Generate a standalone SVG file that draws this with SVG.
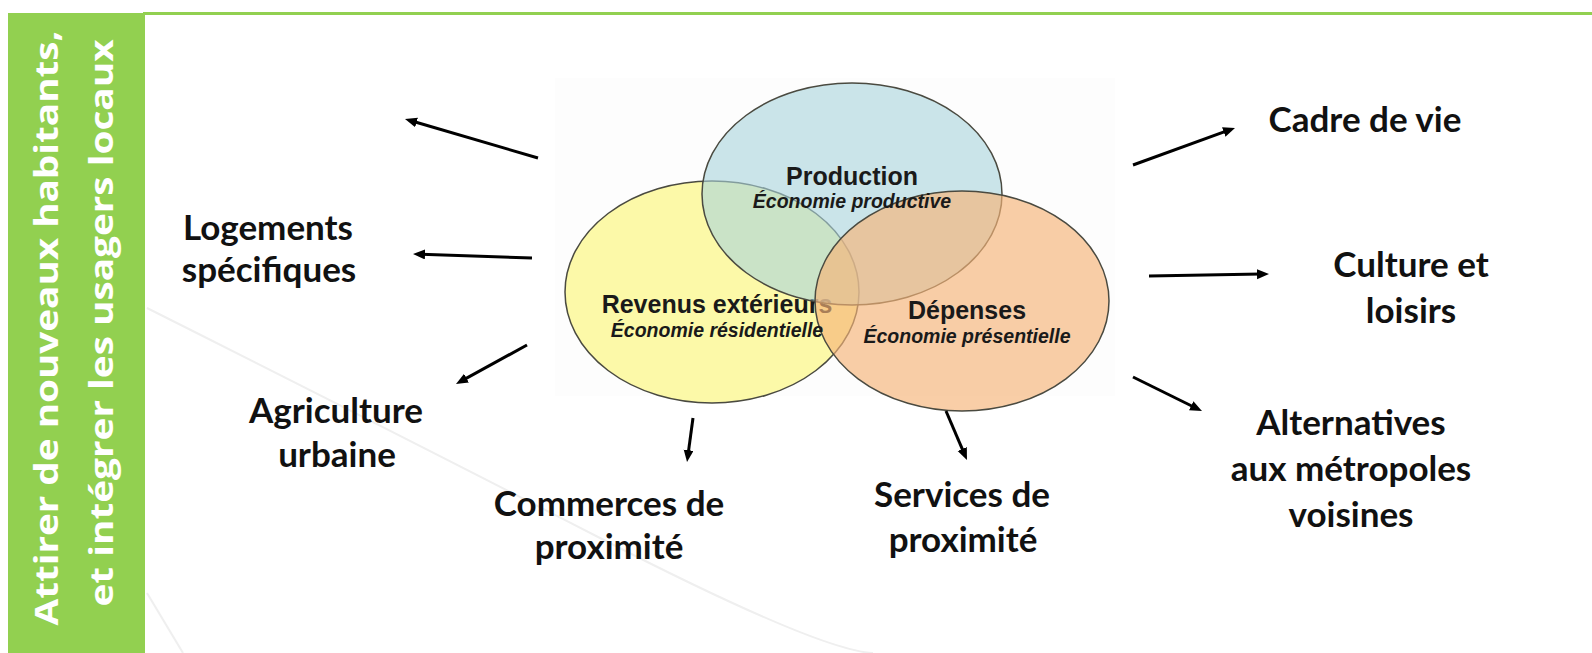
<svg xmlns="http://www.w3.org/2000/svg" width="1592" height="653" viewBox="0 0 1592 653">
  <defs>
    <marker id="ah" markerUnits="userSpaceOnUse" markerWidth="14" markerHeight="12" refX="4" refY="5" orient="auto">
      <path d="M0,0 L12,5 L0,10 z" fill="#000"/>
    </marker>
    <style>
      .lbl { font-family: Lato, "Open Sans", "Liberation Sans", sans-serif; font-weight: bold; font-size: 35px; fill: #111; text-anchor: middle; }
      .vt { font-family: "Liberation Sans", Arial, sans-serif; font-weight: bold; font-size: 25px; fill: #1a1a1a; text-anchor: middle; }
      .vs { font-family: "Liberation Sans", Arial, sans-serif; font-weight: bold; font-style: italic; font-size: 19.5px; fill: #1a1a1a; text-anchor: middle; }
      .side { font-family: "Open Sans", "Liberation Sans", sans-serif; font-weight: bold; font-size: 32px; fill: #fff; text-anchor: middle; }
      .arr { stroke: #000; stroke-width: 3; fill: none; marker-end: url(#ah); }
      .swoosh { stroke: #efefef; stroke-width: 2; fill: none; }
      .ell { stroke: #4a4a40; stroke-width: 1.5; }
    </style>
  </defs>
  <rect x="0" y="0" width="1592" height="653" fill="#fff"/>
  <g id="background">
    <path class="swoosh" d="M147,308 Q380,425 600,538 T873,653"/>
    <path class="swoosh" d="M147,593 L183,653"/>
    <rect x="555" y="78" width="560" height="318" fill="#fdfdfd"/>
  </g>
  <g id="sidebar">
    <rect x="8" y="13" width="137" height="640" fill="#92d050"/>
    <rect x="143" y="12" width="1449" height="3" fill="#92d050"/>
    <text class="side" transform="translate(58,328) rotate(-90)" textLength="595" lengthAdjust="spacingAndGlyphs">Attirer de nouveaux habitants,</text>
    <text class="side" transform="translate(113,323) rotate(-90)" textLength="567" lengthAdjust="spacingAndGlyphs">et intégrer les usagers locaux</text>
  </g>
  <g id="venn">
    <g id="revenus">
      <ellipse class="ell" cx="712" cy="292" rx="147" ry="111" fill="#fcf9a8"/>
      <text class="vt" x="717" y="313">Revenus extérieurs</text>
    </g>
    <g id="production">
      <ellipse class="ell" cx="852" cy="194" rx="150" ry="111" fill="#a8d3dc" fill-opacity="0.6"/>
    </g>
    <g id="depenses">
      <ellipse class="ell" cx="962" cy="301" rx="147" ry="110" fill="#f6b478" fill-opacity="0.65"/>
    </g>
    <g id="venn-texts">
      <text class="vs" x="717" y="337">Économie résidentielle</text>
      <text class="vt" x="852" y="185">Production</text>
      <text class="vs" x="852" y="208">Économie productive</text>
      <text class="vt" x="967" y="319">Dépenses</text>
      <text class="vs" x="967" y="343">Économie présentielle</text>
    </g>
  </g>
  <g id="connectors">
    <line class="arr" x1="538" y1="158" x2="412.7" y2="121.3"/>
    <line class="arr" x1="532" y1="258" x2="421" y2="254.3"/>
    <line class="arr" x1="527" y1="345" x2="463" y2="380.1"/>
    <line class="arr" x1="693" y1="418" x2="688.1" y2="454.1"/>
    <line class="arr" x1="946" y1="411" x2="963.8" y2="452.6"/>
    <line class="arr" x1="1133" y1="165" x2="1227.5" y2="130.7"/>
    <line class="arr" x1="1149" y1="276" x2="1261" y2="274.1"/>
    <line class="arr" x1="1133" y1="377" x2="1194.8" y2="407.5"/>
  </g>
  <g id="label-logements">
    <text class="lbl" x="268" y="240">Logements</text>
    <text class="lbl" x="269" y="282">spécifiques</text>
  </g>
  <g id="label-agriculture">
    <text class="lbl" x="336" y="423">Agriculture</text>
    <text class="lbl" x="337" y="467">urbaine</text>
  </g>
  <g id="label-commerces">
    <text class="lbl" x="609" y="516">Commerces de</text>
    <text class="lbl" x="609" y="559">proximité</text>
  </g>
  <g id="label-services">
    <text class="lbl" x="962" y="507">Services de</text>
    <text class="lbl" x="963" y="552">proximité</text>
  </g>
  <g id="label-cadre">
    <text class="lbl" x="1365" y="132">Cadre de vie</text>
  </g>
  <g id="label-culture">
    <text class="lbl" x="1411" y="277">Culture et</text>
    <text class="lbl" x="1411" y="323">loisirs</text>
  </g>
  <g id="label-alternatives">
    <text class="lbl" x="1351" y="435">Alternatives</text>
    <text class="lbl" x="1351" y="481">aux métropoles</text>
    <text class="lbl" x="1351" y="527">voisines</text>
  </g>
</svg>
